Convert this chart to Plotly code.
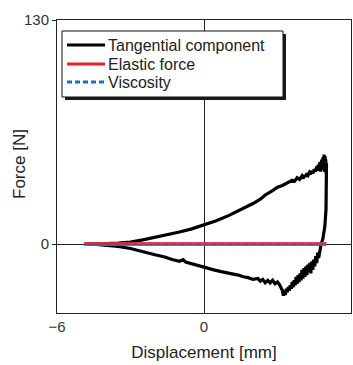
import plotly.graph_objects as go

# ---- data ----
tan_x = [-4.8, -4.4, -4.0, -3.5, -3.0, -2.5, -2.0, -1.5, -1.0, -0.5, 0.0, 0.5, 1.0, 1.5, 2.0,
         2.3, 2.5, 2.8, 3.0, 3.2, 3.4, 3.5, 3.6, 3.7, 3.8, 3.9, 4.0, 4.05, 4.1, 4.15, 4.2, 4.25, 4.3,
         4.35, 4.4, 4.45, 4.5, 4.55, 4.6, 4.63, 4.66, 4.7, 4.73, 4.76, 4.8, 4.83, 4.86, 4.88,
         4.9, 4.92, 4.94, 4.96, 4.97, 4.98, 5.0,
         5.0, 4.98, 4.93, 4.85, 4.78, 4.72, 4.68, 4.64, 4.6, 4.56, 4.52, 4.48, 4.44, 4.4, 4.36,
         4.32, 4.28, 4.24, 4.2, 4.16, 4.12, 4.08, 4.04, 4.0, 3.96, 3.92, 3.88, 3.84, 3.8, 3.76,
         3.72, 3.68, 3.64, 3.6, 3.56, 3.52, 3.48, 3.44, 3.4, 3.36, 3.32, 3.28, 3.24, 3.2,
         3.15, 3.08, 3.0, 2.9, 2.8, 2.7, 2.6, 2.5, 2.4, 2.3, 2.2, 2.0, 1.8, 1.6, 1.4, 1.2,
         1.0, 0.7, 0.4, 0.0, -0.3, -0.6, -0.75, -0.85, -1.0, -1.3, -1.6, -2.0, -2.5, -3.0,
         -3.5, -4.0, -4.4, -4.8]
tan_f = [0.0, 0.0, 0.2, 0.5, 1.2, 2.4, 3.8, 5.3, 7.0, 8.8, 11.0, 13.5, 16.5, 19.8, 23.5,
         26.0, 28.5, 31.0, 33.0, 34.0, 35.5, 36.0, 37.0, 36.5, 38.5, 37.5, 39.5, 38.0, 40.0, 39.0, 41.0, 40.0, 41.5,
         40.5, 42.5, 41.0, 43.5, 42.0, 45.0, 42.5, 46.0, 43.0, 47.5, 42.0, 49.0, 44.0, 50.5, 43.0,
         52.0, 42.0, 51.0, 45.0, 49.0, 41.0, 47.0,
         32.0, 20.0, 10.0, 3.0, 0.0, -4.0, -8.0, -5.0, -11.0, -7.0, -13.0, -9.0, -15.0, -10.0, -17.0,
         -11.0, -16.0, -12.0, -18.0, -13.0, -19.0, -14.0, -20.0, -15.0, -21.0, -17.0, -22.0, -18.0, -23.0, -19.0,
         -24.0, -21.0, -25.0, -22.0, -26.0, -24.0, -27.0, -25.0, -28.0, -26.0, -29.5, -27.0, -30.0, -27.0,
         -25.0, -23.5, -22.0, -23.0, -21.0, -22.5, -21.0, -22.5, -20.5, -21.5, -20.0, -20.5, -19.5, -19.0, -18.0, -17.5,
         -17.0, -16.0, -15.0, -13.5, -12.5, -11.5, -10.5, -9.0, -10.0, -9.0, -7.5, -6.2, -4.2, -2.6,
         -1.4, -0.6, -0.2, 0.0]
elastic_x = [-4.9, 5.0]
elastic_f = [0.0, 0.0]
visc_x = [-4.9, 5.0]
visc_f = [0.0, 0.0]

x_ticks = [-6, 0, 6]
y_ticks = [0, 130]
legend_names = ["Tangential component", "Elastic force", "Viscosity"]
x_title = "Displacement [mm]"
y_title = "Force [N]"

FONT = "Liberation Sans, Arial, sans-serif"

fig = go.Figure()
fig.add_trace(go.Scatter(x=tan_x, y=tan_f, mode="lines",
                         line=dict(color="#000000", width=3.2), name=legend_names[0]))
fig.add_trace(go.Scatter(x=elastic_x, y=elastic_f, mode="lines",
                         line=dict(color="rgba(235,45,55,0.9)", width=4), name=legend_names[1]))
fig.add_trace(go.Scatter(x=visc_x, y=visc_f, mode="lines",
                         line=dict(color="#3b5fb5", width=1.6, dash="5px,3px"), name=legend_names[2]))

# plot-area pixel geometry -> paper coords helper for the legend box
L, R, T, B = 57, 351, 20, 313
def px(xp):
    return (xp - L) / (R - L)
def py(yp):
    return (B - yp) / (B - T)

shapes = [
    dict(type="rect", xref="paper", yref="paper", x0=px(65), x1=px(286), y0=py(34), y1=py(100),
         fillcolor="#1a1a1a", line=dict(width=0), layer="above"),
    dict(type="rect", xref="paper", yref="paper", x0=px(62), x1=px(283), y0=py(31), y1=py(97),
         fillcolor="white", line=dict(color="#111", width=1), layer="above"),
]
colors = ["#000000", "#e8202a", "#1a6ec0"]
dashes = ["solid", "solid", "5px,3px"]
rows = [45, 64, 82]
annotations = []
for name, c, d, r in zip(legend_names, colors, dashes, rows):
    shapes.append(dict(type="line", xref="paper", yref="paper", x0=px(67), x1=px(105),
                       y0=py(r), y1=py(r), line=dict(color=c, width=3, dash=d), layer="above"))
    annotations.append(dict(xref="paper", yref="paper", x=px(106), y=py(r), text=name,
                            showarrow=False, xanchor="left", yanchor="middle",
                            font=dict(family=FONT, size=16, color="#222")))
annotations.append(dict(xref="paper", yref="paper", x=px(19), y=py(164), text=y_title,
                        textangle=-90, showarrow=False, xanchor="center", yanchor="middle",
                        font=dict(family=FONT, size=17, color="#222")))

fig.update_layout(
    width=353, height=365,
    margin=dict(l=L, r=353 - R, t=T, b=365 - B),
    paper_bgcolor="white", plot_bgcolor="white",
    showlegend=False,
    shapes=shapes, annotations=annotations,
    xaxis=dict(range=[-6, 6], tickvals=x_ticks, ticks="", showgrid=False,
               zeroline=True, zerolinecolor="#222", zerolinewidth=1,
               showline=True, linecolor="#222", linewidth=1, mirror=True,
               tickfont=dict(family=FONT, size=15, color="#333"),
               title=dict(text=x_title, font=dict(family=FONT, size=17, color="#222"), standoff=12)),
    yaxis=dict(range=[-40, 130], tickvals=y_ticks, ticks="outside", ticklen=4, tickcolor="#222",
               showgrid=False, zeroline=True, zerolinecolor="#222", zerolinewidth=1,
               showline=True, linecolor="#222", linewidth=1, mirror=True,
               tickfont=dict(family=FONT, size=15, color="#333")),
)
fig.write_html("out.html")
